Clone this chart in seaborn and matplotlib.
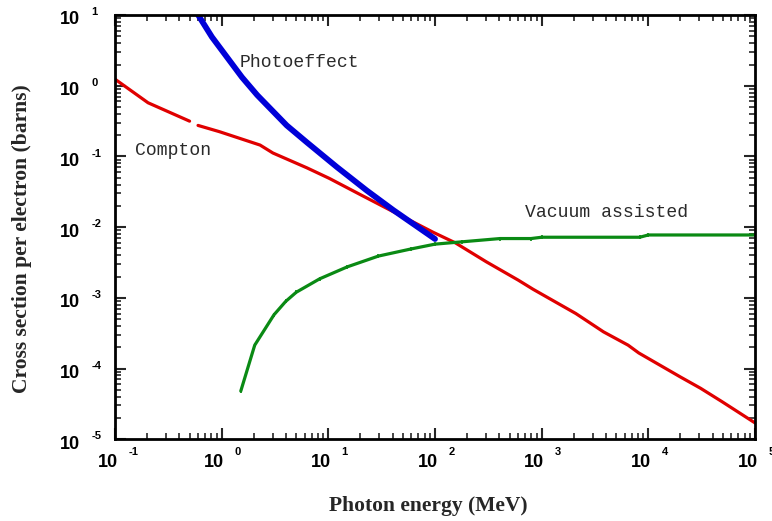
import matplotlib
matplotlib.use("Agg")
import matplotlib.pyplot as plt
import matplotlib.ticker as mticker
import numpy as np
import seaborn as sns

# ---- data (energy in MeV, cross section in barns) ----
photo_E = [0.575, 0.81, 1.55, 2.15, 4.07, 6.3, 12.0, 22.9, 40.7, 100.0]
photo_sigma = [11.2, 4.9, 1.32, 0.74, 0.275, 0.158, 0.071, 0.033, 0.0174, 0.0068]

# Compton is drawn in two pieces (small gap near 0.55 MeV in the original)
compton_low_E = [0.1, 0.204, 0.50]
compton_low_sigma = [1.24, 0.575, 0.316]
compton_E = [0.60, 0.955, 2.29, 3.02, 6.3, 10.2, 20.0, 46.8, 95.5, 155.0,
             302.0, 603.0, 832.0, 1585.0, 2089.0, 3800.0, 6460.0, 8130.0,
             19950.0, 30900.0, 49000.0, 100000.0]
compton_sigma = [0.275, 0.224, 0.145, 0.112, 0.069, 0.049, 0.0288, 0.0148,
                 0.0085, 0.0060, 0.00324, 0.00178, 0.00132, 0.00076, 0.0006,
                 0.00033, 0.000214, 0.000166, 7.6e-5, 5.25e-5, 3.4e-5, 1.7e-5]

vacuum_E = [1.51, 2.04, 3.09, 3.98, 5.0, 8.3, 15.1, 29.5, 59.0, 100.0, 178.0,
            407.0, 794.0, 1000.0, 8300.0, 10000.0, 100000.0]
vacuum_sigma = [4.8e-5, 2.14e-4, 5.75e-4, 8.9e-4, 1.2e-3, 1.86e-3, 2.75e-3,
                3.9e-3, 4.9e-3, 5.75e-3, 6.2e-3, 6.9e-3, 6.9e-3, 7.2e-3,
                7.2e-3, 7.75e-3, 7.75e-3]

x_decades = [-1, 0, 1, 2, 3, 4, 5]
y_decades = [-5, -4, -3, -2, -1, 0, 1]

RED = "#e00000"
BLUE = "#0000d8"
GREEN = "#0a8a14"

sns.set_theme(style="ticks")
plt.rcParams["font.family"] = ["Liberation Sans", "DejaVu Sans"]

fig = plt.figure(figsize=(7.72, 5.21), dpi=100)
ax = fig.add_axes([0.149, 0.157, 0.829, 0.814])

sns.lineplot(x=compton_low_E, y=compton_low_sigma, ax=ax, color=RED,
             linewidth=2.3, estimator=None, sort=False)
sns.lineplot(x=compton_E, y=compton_sigma, ax=ax, color=RED,
             linewidth=2.3, estimator=None, sort=False)
sns.lineplot(x=vacuum_E, y=vacuum_sigma, ax=ax, color=GREEN, linewidth=2.3,
             estimator=None, sort=False, marker="|", markersize=3,
             markeredgewidth=1.2, markeredgecolor=GREEN)
sns.lineplot(x=photo_E, y=photo_sigma, ax=ax, color=BLUE,
             linewidth=4.2, estimator=None, sort=False, solid_capstyle="round")

ax.set_xscale("log")
ax.set_yscale("log")
ax.set_xlim(10.0 ** x_decades[0], 10.0 ** x_decades[-1])
ax.set_ylim(10.0 ** y_decades[0], 10.0 ** y_decades[-1])

for side in ax.spines.values():
    side.set_linewidth(2)
    side.set_color("black")
ax.tick_params(which="major", direction="in", length=8, width=1.5,
               top=True, right=True, labelbottom=False, labelleft=False)
ax.tick_params(which="minor", direction="in", length=4, width=1.2,
               top=True, right=True)
ax.xaxis.set_minor_locator(mticker.LogLocator(base=10, subs=np.arange(2, 10)))
ax.yaxis.set_minor_locator(mticker.LogLocator(base=10, subs=np.arange(2, 10)))
ax.xaxis.set_minor_formatter(mticker.NullFormatter())
ax.yaxis.set_minor_formatter(mticker.NullFormatter())
ax.grid(False)

# "10  exp" style tick labels
base_kw = dict(fontsize=13, fontweight="bold", color="black")
exp_kw = dict(fontsize=8, fontweight="bold", color="black")
for d in x_decades:
    xv = 10.0 ** d
    ax.annotate("10", xy=(xv, 0), xycoords=("data", "axes fraction"),
                xytext=(2, -16.5), textcoords="offset points",
                ha="right", va="center", annotation_clip=False, **base_kw)
    ax.annotate(str(d), xy=(xv, 0), xycoords=("data", "axes fraction"),
                xytext=(9.5, -9.5), textcoords="offset points",
                ha="left", va="center", annotation_clip=False, **exp_kw)
for d in y_decades:
    yv = 10.0 ** d
    ax.annotate("10", xy=(0, yv), xycoords=("axes fraction", "data"),
                xytext=(-25, -3.5), textcoords="offset points",
                ha="right", va="center", annotation_clip=False, **base_kw)
    ax.annotate(str(d), xy=(0, yv), xycoords=("axes fraction", "data"),
                xytext=(-17, 2), textcoords="offset points",
                ha="left", va="center", annotation_clip=False, **exp_kw)

label_kw = dict(fontsize=15.5, fontweight="bold", family="Liberation Serif")
ax.set_xlabel("Photon energy (MeV)", **label_kw)
ax.set_ylabel("Cross section per electron (barns)", **label_kw)
ax.xaxis.set_label_coords(0.489, -0.133)
ax.yaxis.set_label_coords(-0.13, 0.474)

curve_kw = dict(fontsize=13.1, family="Liberation Mono", color="#2a2a2a",
                va="center", ha="left")
ax.text(1.48, 2.16, "Photoeffect", **curve_kw)
ax.text(0.154, 0.123, "Compton", **curve_kw)
ax.text(692, 0.0162, "Vacuum assisted", **curve_kw)

fig.savefig("out.png", dpi=100, facecolor="white")
